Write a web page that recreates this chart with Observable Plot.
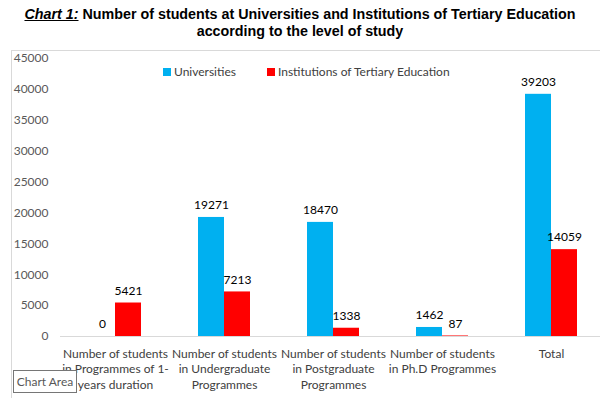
<!DOCTYPE html>
<html>
<head>
<meta charset="utf-8">
<script src="https://cdn.jsdelivr.net/npm/d3@7"></script>
<script src="https://cdn.jsdelivr.net/npm/@observablehq/plot@0.6"></script>
<style>
  body { margin: 0; background: #fff; }
  #wrap { position: relative; width: 600px; height: 398px; overflow: hidden; font-family: Lato, "Open Sans", sans-serif; }
  #title { position: absolute; top: 6px; left: 0; width: 600px; text-align: center; font-family: "Liberation Sans", Arial, sans-serif; font-weight: bold; font-size: 14.3px; line-height: 17px; color: #000; }
  #title .lead { font-style: italic; text-decoration: underline; }
  #frame { position: absolute; left: 11px; top: 50px; width: 600px; height: 360px; border-left: 1px solid #d9d9d9; border-top: 1px solid #d9d9d9; }
  #chart { position: absolute; left: 0; top: 50px; }
  #legend { position: absolute; top: 64px; left: 163px; font-size: 12px; color: #404040; display: flex; }
  #legend .item { display: flex; align-items: center; margin-right: 31px; }
  #legend .sw { width: 8px; height: 8px; margin-right: 3px; }
  #tip { position: absolute; left: 13px; top: 370px; width: 62px; height: 21px; border: 1px solid #767676; background: #fff; font-size: 12px; color: #575757; line-height: 21px; text-align: center; }
</style>
</head>
<body>
<div id="wrap">
  <div id="title"><span class="lead">Chart 1:</span> Number of students at Universities and Institutions of Tertiary Education<br>according to the level of study</div>
  <div id="frame"></div>
  <div id="chart"></div>
  <div id="legend"></div>
  <div id="tip">Chart Area</div>
</div>
<script>
const categories = ["1-year", "Undergraduate", "Postgraduate", "PhD", "Total"];
const tickLabels = [
  "Number of students\nin Programmes of 1-\nyears duration",
  "Number of students\nin Undergraduate\nProgrammes",
  "Number of students\nin Postgraduate\nProgrammes",
  "Number of students\nin Ph.D Programmes",
  "Total"
];
const seriesNames = ["Universities", "Institutions of Tertiary Education"];
const seriesColors = ["#00B0F0", "#FF0000"];
const universities = [0, 19271, 18470, 1462, 39203];
const tertiary = [5421, 7213, 1338, 87, 14059];
const yTicks = [0, 5000, 10000, 15000, 20000, 25000, 30000, 35000, 40000, 45000];

const rows = [];
categories.forEach((c, i) => {
  rows.push({cat: c, series: seriesNames[0], value: universities[i]});
  rows.push({cat: c, series: seriesNames[1], value: tertiary[i]});
});
const uni = rows.filter(d => d.series === seriesNames[0]);
const ter = rows.filter(d => d.series === seriesNames[1]);
const labelOf = new Map(categories.map((c, i) => [c, tickLabels[i]]));

const chart = Plot.plot({
  width: 600,
  height: 348,
  marginTop: 8,
  marginBottom: 62,
  marginLeft: 60,
  marginRight: 0,
  style: {fontFamily: "Lato, 'Open Sans', sans-serif", fontSize: "12px", background: "transparent"},
  x: {domain: categories, range: [60, 605], paddingInner: 0.523, paddingOuter: 0.26, label: null},
  y: {domain: [0, 45000], label: null},
  color: {domain: seriesNames, range: seriesColors},
  marks: [
    Plot.barY(uni, {x: "cat", y: "value", fill: "series", insetRight: 26}),
    Plot.barY(ter, {x: "cat", y: "value", fill: "series", insetLeft: 26}),
    Plot.ruleY([0], {stroke: "#d9d9d9"}),
    Plot.text(uni, {x: "cat", y: "value", text: d => String(d.value), dx: -13, dy: -12, fill: "#000", fontSize: 12}),
    Plot.text(ter, {x: "cat", y: "value", text: d => String(d.value), dx: 13, dy: -12, fill: "#000", fontSize: 12}),
    Plot.axisY({ticks: yTicks, tickFormat: d => String(d), tickSize: 0, tickPadding: 12, fill: "#595959", fontSize: 12, label: null}),
    Plot.axisX({tickFormat: d => labelOf.get(d), tickSize: 0, tickPadding: 10, fill: "#404040", fontSize: 12, lineHeight: 1.3, label: null})
  ]
});
document.getElementById("chart").appendChild(chart);

const legend = document.getElementById("legend");
seriesNames.forEach((n, i) => {
  const item = document.createElement("div");
  item.className = "item";
  const sw = document.createElement("div");
  sw.className = "sw";
  sw.style.background = seriesColors[i];
  const t = document.createElement("span");
  t.textContent = n;
  item.appendChild(sw); item.appendChild(t);
  legend.appendChild(item);
});
</script>
</body>
</html>
